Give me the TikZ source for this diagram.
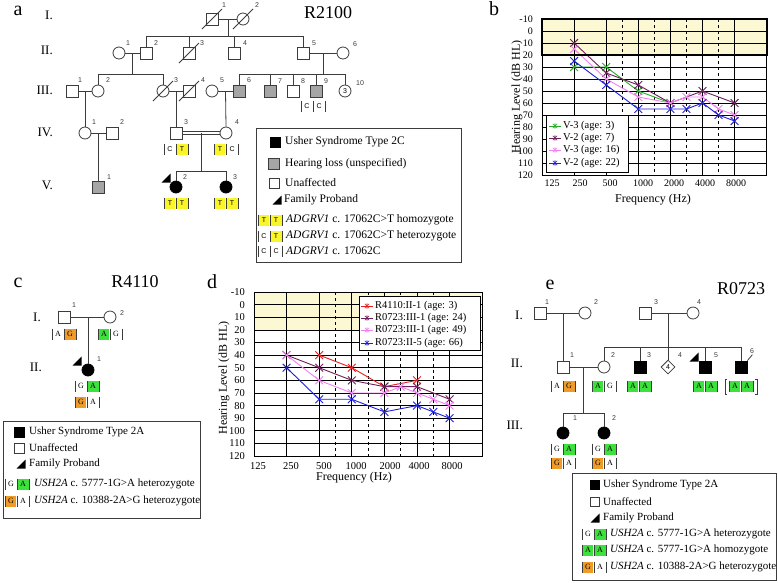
\documentclass[tikz,border=0pt]{standalone}
\usepackage{fontspec}
\setmainfont{Liberation Serif}
\newfontfamily\sansnum{Liberation Sans}
\usetikzlibrary{shapes.geometric}
\definecolor{ylw}{RGB}{250,245,40}
\definecolor{grn}{RGB}{60,225,60}
\definecolor{org}{RGB}{240,155,40}
\definecolor{bandc}{RGB}{252,248,212}
\definecolor{hgrey}{RGB}{165,165,165}
\definecolor{lgrn}{RGB}{40,170,40}
\definecolor{purp}{RGB}{110,30,90}
\definecolor{pnk}{RGB}{240,130,240}
\definecolor{blu}{RGB}{30,30,220}
\definecolor{rd}{RGB}{230,30,30}
\definecolor{pline}{RGB}{60,60,60}
\tikzset{
 ln/.style={draw=pline, line width=0.8pt},
 sq/.style={rectangle, draw=pline, fill=white, line width=0.8pt, minimum size=12pt, inner sep=0pt},
 ci/.style={circle, draw=pline, fill=white, line width=0.8pt, minimum size=12pt, inner sep=0pt, font=\sansnum\fontsize{7}{7}\selectfont},
 aff/.style={fill=black, draw=black},
 hl/.style={fill=hgrey},
 num/.style={font=\sansnum\fontsize{7}{8}\selectfont, inner sep=0pt, text=pline},
 gen/.style={font=\fontsize{13}{15}\selectfont, inner sep=0pt, anchor=east},
 ttl/.style={font=\fontsize{18}{20}\selectfont, inner sep=0pt},
 plet/.style={font=\fontsize{20}{22}\selectfont, inner sep=0pt},
 lgt/.style={font=\fontsize{11}{13}\selectfont, inner sep=0pt, anchor=west},
 gl/.style={font=\fontsize{8}{8}\selectfont, inner sep=0pt},
 gbar/.style={draw=pline, line width=0.6pt},
 grd/.style={draw=black, line width=0.7pt},
 tickl/.style={font=\fontsize{10}{12}\selectfont, inner sep=0pt},
 axl/.style={font=\fontsize{12}{14}\selectfont, inner sep=0pt},
 dat/.style={line width=0.9pt, mark=x, mark size=5.5pt, mark options={solid, line width=0.9pt}},
 chl/.style={font=\fontsize{10.5}{12}\selectfont, inner sep=0pt, anchor=west},
}
\newcommand{\gty}[6]{%
 \begin{scope}[shift={(#1,#2)}]
 \fill[#4] (-11.5,-5.5) rectangle (-1,5.5);
 \fill[#6] (1,-5.5) rectangle (11.5,5.5);
 \draw[gbar] (-12.2,-5.5)--(-12.2,5.5) (0,-5.5)--(0,5.5) (12.2,-5.5)--(12.2,5.5);
 \node[gl] at (-6.1,0) {#3};
 \node[gl] at (6.1,0) {#5};
 \end{scope}}
\newcommand{\prob}[2]{\fill (#1,#2) ++(-4.5,4.5) -- ++(9,0) -- ++(0,-9) -- cycle;}
\newcommand{\lgmark}[3]{%
 \draw[#1, line width=0.8pt] (#2,#3) ++(-6,0) -- ++(12,0);
 \draw[#1, line width=0.6pt] (#2,#3) ++(-2.2,-2.2) -- ++(4.4,4.4) (#2,#3) ++(-2.2,2.2) -- ++(4.4,-4.4) (#2,#3) ++(0,-2.6) -- ++(0,5.2);}
\begin{document}
\begin{tikzpicture}[x=1pt,y=-1pt]
\useasboundingbox (0,0) rectangle (778,582);
\fill[white] (0,0) rectangle (778,582);

% ================= Panel a =================
\tikzset{gl/.style={font=\sansnum\fontsize{7}{7}\selectfont, inner sep=0pt}}
\node[plet] at (18,11) {a};
\node[ttl] at (328,13) {R2100};
\node[gen] at (53,15) {I.};
\node[gen] at (53,50) {II.};
\node[gen] at (53,90) {III.};
\node[gen] at (53,132) {IV.};
\node[gen] at (53,185) {V.};
% Gen I
\node[sq] (a11) at (212,19) {};
\node[ci] (a12) at (243,19) {};
\draw[ln] (a11.east) -- (a12.west);
\draw[ln] (a11.center) ++(-10,10) -- ++(20,-20);
\draw[ln] (a12.center) ++(-10,10) -- ++(20,-20);
\node[num] at (224,5) {1};
\node[num] at (257,5) {2};
% Gen II
\node[ci] (a21) at (119,53) {};
\node[sq] (a22) at (146,53) {};
\node[sq] (a23) at (189,53) {};
\node[sq] (a24) at (234,53) {};
\node[sq] (a25) at (303,53) {};
\node[ci] (a26) at (343,53) {};
\coordinate (am1) at (228,19);
\draw[ln] (am1) -- (228,37);
\draw[ln] (a22.north) -- ++(0,-10) -| (a25.north);
\draw[ln] (a23.north) -- ++(0,-10);
\draw[ln] (a24.north) -- ++(0,-10);
\draw[ln] (a23.center) ++(-10,10) -- ++(20,-20);
\draw[ln] (a21.east) -- (a22.west);
\draw[ln] (a25.east) -- (a26.west);
\node[num] at (128,43) {1};
\node[num] at (156,43) {2};
\node[num] at (202,43) {3};
\node[num] at (245,43) {4};
\node[num] at (314,43) {5};
\node[num] at (355,44) {6};
% Gen III
\node[sq] (a31) at (72,91) {};
\node[ci] (a32) at (98,91) {};
\node[ci] (a33) at (163,91) {};
\node[sq] (a34) at (189,91) {};
\node[ci] (a35) at (212,91) {};
\node[sq, hl] (a36) at (239,91) {};
\node[sq, hl] (a37) at (270,91) {};
\node[sq] (a38) at (293,91) {};
\node[sq, hl] (a39) at (316,91) {};
\node[ci] (a310) at (345,91) {3};
\draw[ln] (132,53) -- (132,75);
\draw[ln] (a32.north) -- ++(0,-10) -| (a33.north);
\draw[ln] (323,53) -- (323,75);
\draw[ln] (a36.north) -- ++(0,-10) -| (a310.north);
\draw[ln] (a37.north) -- ++(0,-10);
\draw[ln] (a38.north) -- ++(0,-10);
\draw[ln] (a39.north) -- ++(0,-10);
\draw[ln] (a31.east) -- (a32.west);
\draw[ln] (a33.east) -- (a34.west);
\draw[ln] (a35.east) -- (a36.west);
\draw[ln] (a33.center) ++(-10,10) -- ++(20,-20);
\draw[ln] (a34.center) ++(-10,10) -- ++(20,-20);
\node[num] at (80,80) {1};
\node[num] at (108,80) {2};
\node[num] at (176,80) {3};
\node[num] at (203,80) {4};
\node[num] at (222,80) {5};
\node[num] at (249,80) {6};
\node[num] at (280,81) {7};
\node[num] at (303,81) {8};
\node[num] at (326,81) {9};
\node[num] at (360,83) {10};
\gty{313}{106}{C}{white}{C}{white}
% Gen IV
\node[ci] (a41) at (85,133) {};
\node[sq] (a42) at (112,133) {};
\node[sq] (a43) at (176,133) {};
\node[ci] (a44) at (226,133) {};
\draw[ln] (85,91) -- (a41.north);
\draw[ln] (176,91) -- (a43.north);
\draw[ln] (225.5,91) -- (a44.north);
\draw[ln] (a41.east) -- (a42.west);
\draw[ln] ([yshift=1.6pt]a43.east) -- ([yshift=1.6pt]a44.west);
\draw[ln] ([yshift=-1.6pt]a43.east) -- ([yshift=-1.6pt]a44.west);
\node[num] at (94,122) {1};
\node[num] at (122,122) {2};
\node[num] at (186,122) {3};
\node[num] at (237,122) {4};
\gty{176}{149}{C}{white}{T}{ylw}
\gty{226}{149}{T}{ylw}{C}{white}
% Gen V
\node[sq, hl] (a51) at (98.5,187) {};
\node[ci, aff] (a52) at (176,187) {};
\node[ci, aff] (a53) at (226,187) {};
\draw[ln] (98.5,133) -- (a51.north);
\draw[ln] (201,133) -- (201,172);
\draw[ln] (a52.north) -- ++(0,-9) -| (a53.north);
\node[num] at (109,177) {1};
\node[num] at (185,177) {2};
\node[num] at (235,177) {3};
\prob{166}{178}
\gty{176}{203}{T}{ylw}{T}{ylw}
\gty{226}{203}{T}{ylw}{T}{ylw}
% legend a
\draw[ln] (256,128) rectangle (461,262);
\node[sq, aff, minimum size=10pt] at (275,142) {};
\node[lgt, font=\fontsize{11.5}{13}\selectfont] at (285,142) {Usher Syndrome Type 2C};
\node[sq, hl, minimum size=11pt] at (274,164) {};
\node[lgt, font=\fontsize{11.5}{13}\selectfont] at (285,164) {Hearing loss (unspecified)};
\node[sq, minimum size=10pt] at (274,183) {};
\node[lgt, font=\fontsize{11.5}{13}\selectfont] at (285,183) {Unaffected};
\prob{277}{200}
\node[lgt, font=\fontsize{11.5}{13}\selectfont] at (284,200) {Family Proband};
\gty{270}{220}{T}{ylw}{T}{ylw}
\node[lgt, font=\fontsize{11.5}{13}\selectfont] at (286,220) {\textit{ADGRV1} c. 17062C>T homozygote};
\gty{270}{236}{C}{white}{T}{ylw}
\node[lgt, font=\fontsize{11.5}{13}\selectfont] at (286,236) {\textit{ADGRV1} c. 17062C>T heterozygote};
\gty{270}{251}{C}{white}{C}{white}
\node[lgt, font=\fontsize{11.5}{13}\selectfont] at (286,251) {\textit{ADGRV1} c. 17062C};

% ================= Panel b =================
\node[plet] at (494,9) {b};
\begin{scope}[shift={(542,19)}, x=32.1pt, y=-1.2pt]
 \fill[bandc] (0,0) rectangle (7,30);
 \foreach \v in {10,20,...,120} \draw[grd] (0,\v) -- (7,\v);
 \foreach \i in {1,...,6} \draw[grd] (\i,0) -- (\i,130);
 \foreach \i in {2.5,3.5,4.5,5.5} \draw[grd, dashed] (\i,0) -- (\i,130);
 \draw[dat, lgrn] plot coordinates {(1,40) (2,40) (3,60) (4,70)};
 \draw[dat, purp] plot coordinates {(1,20) (2,45) (3,55) (4,70) (5,60) (6,70)};
 \draw[dat, pnk] plot coordinates {(1,25) (2,50) (3,65) (4,70) (4.5,65) (5,65) (5.5,75) (6,80)};
 \draw[dat, blu] plot coordinates {(1,35) (2,55) (3,75) (4,75) (4.5,75) (5,70) (5.5,80) (6,85)};
 \draw[grd] (0,0) rectangle (7,130);
 \draw[black, line width=1.6pt] (0,0) rectangle (7,30);
\end{scope}
\foreach \v in {-10,0,...,120} \node[tickl, anchor=east] at (533,{19+(\v+10)*1.2}) {\v};
\foreach \x/\t in {552/125,580/250,610/500,643/1000,674/2000,705/4000,736/8000} \node[tickl] at (\x,183) {\t};
\node[axl, rotate=90] at (517,97) {Hearing Level (dB HL)};
\node[axl] at (653,200) {Frequency (Hz)};
\draw[grd, fill=white] (546,115) rectangle (628,172);
\lgmark{lgrn}{555}{126}
\node[chl] at (563,126) {V-3 (age: 3)};
\lgmark{purp}{555}{138}
\node[chl] at (563,138) {V-2 (age: 7)};
\lgmark{pnk}{555}{150}
\node[chl] at (563,150) {V-3 (age: 16)};
\lgmark{blu}{555}{163}
\node[chl] at (563,163) {V-2 (age: 22)};

% ================= Panel c =================
\tikzset{gl/.style={font=\fontsize{8}{8}\selectfont, inner sep=0pt}}
\node[plet] at (18,283) {c};
\node[ttl] at (135,282) {R4110};
\node[gen] at (41,317) {I.};
\node[gen] at (42,367) {II.};
\node[sq] (c11) at (64,317) {};
\node[ci] (c12) at (110,317) {};
\draw[ln] (c11.east) -- (c12.west);
\node[ci, aff] (c21) at (88,370) {};
\draw[ln] (88,317) -- (c21.north);
\node[num] at (74,305) {1};
\node[num] at (122,313) {2};
\node[num] at (99,359) {1};
\prob{77}{361}
\gty{64}{334}{A}{white}{G}{org}
\gty{110}{334}{A}{grn}{G}{white}
\gty{87}{386}{G}{white}{A}{grn}
\gty{87}{402}{G}{org}{A}{white}
% legend c
\draw[ln] (3,421) rectangle (200,518);
\node[sq, aff, minimum size=10pt] at (19,432) {};
\node[lgt] at (29,432) {Usher Syndrome Type 2A};
\node[sq, minimum size=10pt] at (19,448) {};
\node[lgt] at (29,448) {Unaffected};
\prob{21}{464}
\node[lgt] at (29,464) {Family Proband};
\gty{17}{484}{G}{white}{A}{grn}
\node[lgt] at (34,484) {\textit{USH2A} c. 5777-1G>A heterozygote};
\gty{17}{501}{G}{org}{A}{white}
\node[lgt] at (34,501) {\textit{USH2A} c. 10388-2A>G heterozygote};

% ================= Panel d =================
\node[plet] at (212,282) {d};
\begin{scope}[shift={(254,292)}, x=32.6pt, y=-1.262pt]
 \fill[bandc] (0,0) rectangle (7,30);
 \foreach \v in {10,20,...,120} \draw[grd] (0,\v) -- (7,\v);
 \foreach \i in {1,...,6} \draw[grd] (\i,0) -- (\i,130);
 \foreach \i in {2.5,3.5,4.5,5.5} \draw[grd, dashed] (\i,0) -- (\i,130);
 \draw[dat, rd] plot coordinates {(2,50) (3,60) (4,75) (5,70)};
 \draw[dat, purp] plot coordinates {(1,50) (2,60) (3,70) (4,75) (5,75) (6,85)};
 \draw[dat, pnk] plot coordinates {(1,50) (2,70) (3,80) (4,80) (4.5,75) (5,80) (5.5,85) (6,90)};
 \draw[dat, blu] plot coordinates {(1,60) (2,85) (3,85) (4,95) (5,90) (5.5,95) (6,100)};
 \draw[grd] (0,0) rectangle (7,130);
\end{scope}
\foreach \v in {-10,0,...,120} \node[tickl, font=\fontsize{10.5}{12}\selectfont, anchor=east] at (245,{292+(\v+10)*1.262}) {\v};
\foreach \x/\t in {258/125,291/250,324/500,356/1000,390/2000,419/4000,452/8000} \node[tickl, font=\fontsize{10.5}{12}\selectfont] at (\x,466) {\t};
\node[axl, rotate=90] at (224,378) {Hearing Level (dB HL)};
\node[axl] at (354,478) {Frequency (Hz)};
\draw[grd, fill=white] (359,296) rectangle (480,350);
\lgmark{rd}{367}{306}
\node[chl] at (375,306) {R4110:II-1 (age: 3)};
\lgmark{purp}{367}{318}
\node[chl] at (375,318) {R0723:III-1 (age: 24)};
\lgmark{pnk}{367}{330}
\node[chl] at (375,330) {R0723:III-1 (age: 49)};
\lgmark{blu}{367}{343}
\node[chl] at (375,343) {R0723:II-5 (age: 66)};

% ================= Panel e =================
\node[plet] at (550,285) {e};
\node[ttl] at (741,289) {R0723};
\node[gen] at (523,315) {I.};
\node[gen] at (523,363) {II.};
\node[gen] at (523,425) {III.};
\node[sq] (e11) at (540,313) {};
\node[ci] (e12) at (585,313) {};
\node[sq] (e13) at (645,313) {};
\node[ci] (e14) at (693,313) {};
\draw[ln] (e11.east) -- (e12.west);
\draw[ln] (e13.east) -- (e14.west);
\node[num] at (547,302) {1};
\node[num] at (596,302) {2};
\node[num] at (656,302) {3};
\node[num] at (699,302) {4};
\node[sq] (e21) at (563,367) {};
\node[ci] (e22) at (604,367) {};
\node[sq, aff] (e23) at (640,367) {};
\node[diamond, draw=pline, fill=white, line width=0.8pt, minimum size=14pt, inner sep=0pt, font=\sansnum\fontsize{7}{7}\selectfont] (e24) at (668,367) {4};
\node[sq, aff] (e25) at (705,367) {};
\node[sq, aff] (e26) at (741,367) {};
\draw[ln] (563,313) -- (e21.north);
\draw[ln] (668,313) -- (668,348);
\draw[ln] (e22.north) -- ++(0,-13) -| (e26.north);
\draw[ln] (e23.north) -- ++(0,-13);
\draw[ln] (e24.north) -- ++(0,-12);
\draw[ln] (e25.north) -- ++(0,-13);
\draw[ln] (e21.east) -- (e22.west);
\draw[ln] (e26.north east) -- ++(5,-6);
\node[num] at (572,355) {1};
\node[num] at (613,355) {2};
\node[num] at (649,355) {3};
\node[num] at (680,355) {4};
\node[num] at (716,355) {5};
\node[num] at (752,351) {6};
\prob{694}{357}
\gty{563}{386}{A}{white}{G}{org}
\gty{604}{386}{A}{grn}{G}{white}
\gty{639}{386}{A}{grn}{A}{grn}
\gty{705}{386}{A}{grn}{A}{grn}
\gty{741}{386}{A}{grn}{A}{grn}
\draw[ln] (727,379) -- (725,379) -- (725,394) -- (727,394);
\draw[ln] (755,379) -- (757,379) -- (757,394) -- (755,394);
\node[ci, aff] (e31) at (563,433) {};
\node[ci, aff] (e32) at (604,433) {};
\draw[ln] (583.5,367) -- (583.5,414);
\draw[ln] (e31.north) -- ++(0,-13) -| (e32.north);
\node[num] at (575,418) {1};
\node[num] at (614,418) {2};
\gty{563}{449}{G}{white}{A}{grn}
\gty{563}{463}{G}{org}{A}{white}
\gty{604}{449}{G}{white}{A}{grn}
\gty{604}{463}{G}{org}{A}{white}
% legend e
\draw[ln] (572,473) rectangle (776,580);
\node[sq, aff, minimum size=9pt] at (595,485) {};
\node[lgt] at (603,485) {Usher Syndrome Type 2A};
\node[sq, minimum size=9pt] at (595,502) {};
\node[lgt] at (603,502) {Unaffected};
\prob{595}{518}
\node[lgt] at (603,518) {Family Proband};
\gty{594}{534}{G}{white}{A}{grn}
\node[lgt] at (610,534) {\textit{USH2A} c. 5777-1G>A heterozygote};
\gty{594}{550}{A}{grn}{A}{grn}
\node[lgt] at (610,550) {\textit{USH2A} c. 5777-1G>A homozygote};
\gty{594}{567}{G}{org}{A}{white}
\node[lgt] at (610,567) {\textit{USH2A} c. 10388-2A>G heterozygote};
\end{tikzpicture}
\end{document}
